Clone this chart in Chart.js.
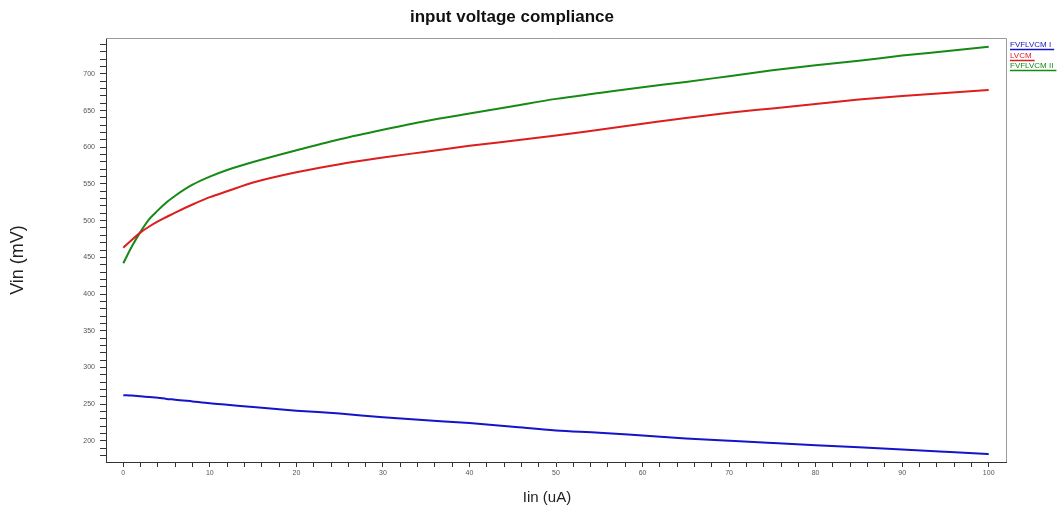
<!DOCTYPE html>
<html>
<head>
<meta charset="utf-8">
<script src="https://cdn.jsdelivr.net/npm/chart.js@4.4.1/dist/chart.umd.min.js"></script>
<style>
  html, body { margin: 0; padding: 0; background: #ffffff; }
  #wrap { width: 1057px; height: 508px; position: relative; }
</style>
</head>
<body>
<div id="wrap"><canvas id="c" width="1057" height="508"></canvas></div>
<script>
// ---- data ----
const chartTitle = 'input voltage compliance';
const xTitle = 'Iin (uA)';
const yTitle = 'Vin (mV)';
const seriesNames = ['FVFLVCM I', 'LVCM', 'FVFLVCM II'];

const iin = [0, 1, 2, 3, 4, 5, 6, 8, 10, 12, 15, 20, 25, 30, 35, 40, 45, 50, 55, 60, 65, 70, 75, 80, 85, 90, 95, 100];
const fvflvcm1 = [262, 261.5, 260.5, 259.5, 258.5, 257, 256, 253.5, 251, 249, 246, 241, 237, 232, 228, 224, 219, 214, 211, 207, 203, 200, 197, 194, 191, 188, 185, 182];
const lvcm = [463, 474, 484, 492, 499, 505, 511, 522, 532, 540, 552, 566, 577, 586, 594, 602, 609, 616, 624, 632, 640, 647, 653, 659, 665, 670, 674, 678];
const fvflvcm2 = [442, 465, 485, 502, 514, 525, 534, 549, 560, 569, 580, 596, 611, 624, 636, 646, 656, 666, 674, 682, 689, 697, 705, 712, 718, 725, 731, 737];

const xTickValues = [];
for (let v = 0; v <= 100; v += 2) xTickValues.push(v);
const yTickValues = [];
for (let v = 180; v <= 740; v += 10) yTickValues.push(v);

// ---- styles ----
const colors = ['#1414c8', '#dc1e1e', '#168a16'];
const FONT = '"Liberation Sans", Arial, sans-serif';

function toPoints(ys) { return iin.map((x, i) => ({ x: x, y: ys[i] })); }

const decorPlugin = {
  id: 'decor',
  afterDraw(chart) {
    const ctx = chart.ctx;
    const a = chart.chartArea;
    ctx.save();
    // frame top and right
    ctx.strokeStyle = '#9a9a9a';
    ctx.lineWidth = 1;
    ctx.beginPath();
    ctx.moveTo(a.left, a.top + 0.5);
    ctx.lineTo(a.right + 0.5, a.top + 0.5);
    ctx.lineTo(a.right + 0.5, a.bottom);
    ctx.stroke();

    // title
    ctx.fillStyle = '#111';
    ctx.font = 'bold 17px ' + FONT;
    ctx.textAlign = 'center';
    ctx.textBaseline = 'alphabetic';
    ctx.fillText(chartTitle, 512, 22);

    // x title
    ctx.font = '15px ' + FONT;
    ctx.fillStyle = '#222';
    ctx.fillText(xTitle, 547, 502);

    // y title
    ctx.save();
    ctx.translate(23, 260);
    ctx.rotate(-Math.PI / 2);
    ctx.font = '18px ' + FONT;
    ctx.textAlign = 'center';
    ctx.fillText(yTitle, 0, 0);
    ctx.restore();

    // legend
    ctx.font = '8px ' + FONT;
    ctx.textAlign = 'left';
    const baseY = [47, 58, 68];
    const lineY = [49.5, 60.5, 70.5];
    seriesNames.forEach((name, i) => {
      ctx.fillStyle = colors[i];
      ctx.fillText(name, 1010, baseY[i]);
      const w = ctx.measureText(name).width;
      ctx.strokeStyle = colors[i];
      ctx.lineWidth = 1.5;
      ctx.beginPath();
      ctx.moveTo(1010, lineY[i]);
      ctx.lineTo(1010 + w + 3, lineY[i]);
      ctx.stroke();
    });
    ctx.restore();
  }
};

const lineDs = (label, ys, color) => ({
  label: label,
  data: toPoints(ys),
  borderColor: color,
  backgroundColor: color,
  borderWidth: 2,
  pointRadius: 0,
  pointHoverRadius: 0,
  cubicInterpolationMode: 'monotone',
  fill: false
});

new Chart(document.getElementById('c'), {
  type: 'line',
  data: {
    datasets: [
      lineDs(seriesNames[0], fvflvcm1, colors[0]),
      lineDs(seriesNames[1], lvcm, colors[1]),
      lineDs(seriesNames[2], fvflvcm2, colors[2])
    ]
  },
  options: {
    responsive: false,
    animation: false,
    events: [],
    layout: { padding: { top: 38, right: 51, left: 0, bottom: 0 } },
    plugins: {
      legend: { display: false },
      title: { display: false },
      tooltip: { enabled: false }
    },
    scales: {
      x: {
        type: 'linear',
        min: -2,
        max: 102,
        afterBuildTicks: (s) => { s.ticks = xTickValues.map(v => ({ value: v })); },
        afterFit: (s) => { s.height = 46; },
        grid: { drawOnChartArea: false, drawTicks: true, tickLength: 5, tickColor: '#333', tickWidth: 1 },
        border: { display: true, color: '#333', width: 1 },
        ticks: {
          autoSkip: false,
          maxRotation: 0,
          minRotation: 0,
          padding: 2,
          color: '#555',
          font: { family: FONT, size: 7 },
          callback: (v) => (v % 10 === 0 ? String(v) : '')
        }
      },
      y: {
        type: 'linear',
        min: 171,
        max: 749,
        afterBuildTicks: (s) => { s.ticks = yTickValues.map(v => ({ value: v })); },
        afterFit: (s) => { s.width = 106; },
        grid: { drawOnChartArea: false, drawTicks: true, tickLength: 6, tickColor: '#333', tickWidth: 1 },
        border: { display: true, color: '#333', width: 1 },
        ticks: {
          autoSkip: false,
          padding: 5,
          color: '#555',
          font: { family: FONT, size: 7 },
          callback: (v) => (v % 50 === 0 ? String(v) : '')
        }
      }
    }
  },
  plugins: [decorPlugin]
});
</script>
</body>
</html>
